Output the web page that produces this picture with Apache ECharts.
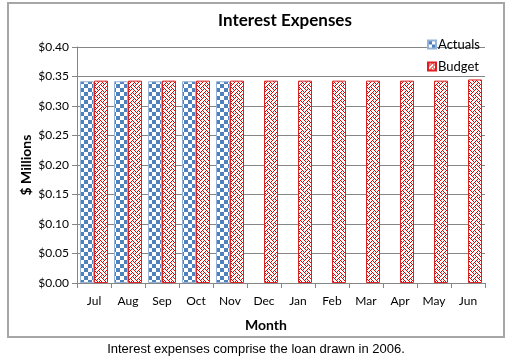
<!DOCTYPE html>
<html><head><meta charset="utf-8">
<script src="https://cdn.jsdelivr.net/npm/echarts@6/dist/echarts.min.js"></script>
<style>html,body{margin:0;padding:0;background:#fff}#c{width:513px;height:361px}</style>
</head><body><div id="c"></div>
<script>
var months = ['Jul','Aug','Sep','Oct','Nov','Dec','Jan','Feb','Mar','Apr','May','Jun'];
var actuals = [0.342,0.342,0.342,0.342,0.342,null,null,null,null,null,null,null];
var budget = [0.343,0.343,0.343,0.343,0.343,0.343,0.343,0.343,0.343,0.343,0.343,0.345];

function checker(){
  var c=document.createElement('canvas');c.width=8;c.height=8;var g=c.getContext('2d');
  g.fillStyle='#fff';g.fillRect(0,0,8,8);g.fillStyle='#4F81BD';
  g.fillRect(0,0,4,4);g.fillRect(4,4,4,4);return c;
}
function weave(){
  var rows=['10001000','01010100','00100010','01000101','10001000','00010101','00100010','01010001'];
  var c=document.createElement('canvas');c.width=8;c.height=8;var g=c.getContext('2d');
  g.fillStyle='#fff';g.fillRect(0,0,8,8);g.fillStyle='#E00000';
  for(var y=0;y<8;y++)for(var x=0;x<8;x++)if(rows[y][x]==='1')g.fillRect(x,y,1,1);
  return c;
}
var font='Lato, "Open Sans", sans-serif';
var chart=echarts.init(document.getElementById('c'),null,{renderer:'canvas'});
chart.setOption({
  animation:false,
  backgroundColor:'#fff',
  legend:{orient:'vertical',left:422,top:33,itemWidth:8,itemHeight:8,itemGap:9,icon:'rect',
    textStyle:{fontFamily:font,fontSize:13,color:'#000',padding:[0,0,0,-3]},
    data:['Actuals','Budget']},
  grid:{left:77,top:47,right:28,bottom:78},
  xAxis:{type:'category',data:months,
    axisLine:{lineStyle:{color:'#868686'}},
    axisTick:{show:true,alignWithLabel:false,length:5,lineStyle:{color:'#868686'}},
    axisLabel:{fontFamily:font,fontSize:12,color:'#000',margin:12}},
  yAxis:{type:'value',min:0,max:0.4,interval:0.05,
    axisLine:{show:true,lineStyle:{color:'#868686'}},
    axisTick:{show:true,length:5,lineStyle:{color:'#868686'}},
    splitLine:{lineStyle:{color:'#868686'}},
    axisLabel:{fontFamily:font,fontSize:12,color:'#000',margin:8,formatter:function(v){return '$'+v.toFixed(2);}}},
  series:[
    {name:'Actuals',type:'bar',data:actuals,barWidth:14,barGap:'0%',
      itemStyle:{color:{image:checker(),repeat:'repeat'},borderColor:'#95B3D7',borderWidth:1}},
    {name:'Budget',type:'bar',data:budget,barWidth:14,
      itemStyle:{color:{image:weave(),repeat:'repeat'},borderColor:'#E02020',borderWidth:1}}
  ],
  graphic:[
    {type:'rect',shape:{x:8,y:3,width:496,height:334},style:{fill:'none',stroke:'#A6A6A6',lineWidth:2},z:-1},
    {type:'text',x:285,y:21,style:{text:'Interest Expenses',font:'bold 17px '+font,fill:'#000',textAlign:'center',textVerticalAlign:'middle'}},
    {type:'text',x:26,y:165,rotation:Math.PI/2,style:{text:'$ Millions',font:'bold 14px '+font,fill:'#000',textAlign:'center',textVerticalAlign:'middle'}},
    {type:'text',x:266,y:325,style:{text:'Month',font:'bold 14px '+font,fill:'#000',textAlign:'center',textVerticalAlign:'middle'}},
    {type:'text',x:256,y:349,style:{text:'Interest expenses comprise the loan drawn in 2006.',font:'13px "Liberation Sans", Arial, sans-serif',fill:'#000',textAlign:'center',textVerticalAlign:'middle'}}
  ]
});
</script></body></html>
